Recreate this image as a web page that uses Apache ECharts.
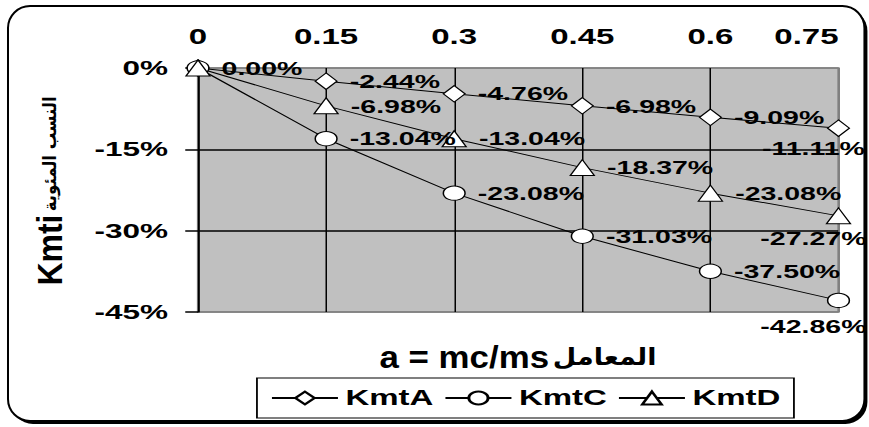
<!DOCTYPE html>
<html>
<head>
<meta charset="utf-8">
<script src="https://cdn.jsdelivr.net/npm/echarts@6/dist/echarts.min.js"></script>
<style>
  html, body { margin: 0; padding: 0; background: #fff; overflow: hidden; }
  #wrap { width: 869px; height: 427px; overflow: hidden; }
  /* the drawing is laid out narrow and widened 1.5x, giving the wide lettering and oval markers */
  #chart { width: 579.333px; height: 427px; transform: scaleX(1.5); transform-origin: 0 0; }
</style>
</head>
<body>
<div id="wrap"><div id="chart"></div></div>
<script>
// ratio a = mc/ms
const xValues = [0, 0.15, 0.3, 0.45, 0.6, 0.75];
// percentage change of Kmti for each mix
const kmtA = [0, -2.44, -4.76, -6.98, -9.09, -11.11];
const kmtC = [0, -13.04, -23.08, -31.03, -37.50, -42.86];
const kmtD = [0, -6.98, -13.04, -18.37, -23.08, -27.27];
const seriesNames = ['KmtA', 'KmtC', 'KmtD'];
const yMin = -45, yMax = 0, yStep = 15;
const xMin = 0, xMax = 0.75, xStep = 0.15;
const xTitleLatin = 'a = mc/ms';
const xTitleArabic = 'المعامل';
const yTitleLatin = 'Kmti';
const yTitleArabic = 'النسب المئوية';

const SX = 1.5;                 // horizontal widening of the page
const FONT = 'Arial, "Liberation Sans", sans-serif';
const AR_FONT = '"DejaVu Sans", sans-serif';

const chart = echarts.init(document.getElementById('chart'), null, { renderer: 'svg' });

function makeSeries(name, values, symbol, size, lastDist, hideFirst) {
  return {
    type: 'line',
    name: name,
    symbol: symbol,
    symbolSize: size,
    showAllSymbol: true,
    lineStyle: { color: '#000', width: 1 },
    itemStyle: { color: '#fff', borderColor: '#000', borderWidth: 1 },
    label: {
      show: true,
      position: 'right',
      distance: 8,
      color: '#000',
      fontFamily: FONT,
      fontWeight: 'bold',
      fontSize: 19,
      formatter: p => p.value[1].toFixed(2) + '%'
    },
    emphasis: { disabled: true },
    data: values.map((v, i) => {
      const item = { value: [xValues[i], v] };
      if (i === 0 && hideFirst) item.label = { show: false };
      if (i === values.length - 1) {
        item.label = { position: 'bottom', distance: lastDist, offset: [-16.7, 0] };
      }
      return item;
    })
  };
}

const option = {
  animation: false,
  backgroundColor: 'transparent',
  grid: {
    left: 132, right: 20, top: 68, bottom: 115,
    show: true,
    backgroundColor: '#c0c0c0',
    borderColor: '#808080',
    borderWidth: 1.5
  },
  xAxis: {
    type: 'value',
    position: 'top',
    min: xMin, max: xMax, interval: xStep,
    axisLine: { show: false },
    axisTick: { show: false },
    axisLabel: {
      margin: 20,
      color: '#000',
      fontFamily: FONT,
      fontWeight: 'bold',
      fontSize: 22,
      alignMaxLabel: 'right'
    },
    splitLine: {
      show: true,
      lineStyle: { color: ['#000', '#000', '#000', '#000', '#000', '#808080'], width: 1 }
    }
  },
  yAxis: {
    type: 'value',
    min: yMin, max: yMax, interval: yStep,
    axisLine: { show: true, lineStyle: { color: '#000', width: 1.2 } },
    axisTick: { show: true, inside: false, length: 8.5, lineStyle: { color: '#000', width: 1.5 } },
    axisLabel: {
      margin: 20,
      color: '#000',
      fontFamily: FONT,
      fontWeight: 'bold',
      fontSize: 21,
      formatter: v => v + '%'
    },
    splitLine: {
      show: true,
      lineStyle: { color: ['#808080', '#000', '#000', '#808080'], width: 1.5 }
    }
  },
  legend: {
    data: seriesNames,
    left: 171.3,
    top: 378,
    orient: 'horizontal',
    itemWidth: 44,
    itemHeight: 16,
    itemGap: 7,
    padding: [9, 9],
    backgroundColor: '#fff',
    borderColor: '#000',
    borderWidth: 1.2,
    borderRadius: 0,
    selectedMode: false,
    textStyle: { color: '#000', fontFamily: FONT, fontWeight: 'bold', fontSize: 22 }
  },
  graphic: [
    // outer frame: offset dark edge, then the white panel
    {
      type: 'rect', z: -20, silent: true,
      x: 11 / SX, y: 9, scaleX: 1 / SX,
      shape: { x: 0, y: 0, width: 856, height: 415, r: 22 },
      style: { fill: '#000' }
    },
    {
      type: 'rect', z: -19, silent: true,
      x: 8 / SX, y: 6, scaleX: 1 / SX,
      shape: { x: 0, y: 0, width: 856, height: 415, r: 22 },
      style: { fill: '#fff', stroke: '#000', lineWidth: 2 }
    },
    // x-axis title under the plot
    {
      type: 'text', z: 10, silent: true,
      x: 518 / SX, y: 357, scaleX: 0.75,
      style: {
        text: '{en|' + xTitleLatin + '} {ar|' + xTitleArabic + '}',
        align: 'center', verticalAlign: 'middle',
        rich: {
          en: { fontFamily: FONT, fontWeight: 'bold', fontSize: 31, fill: '#000' },
          ar: { fontFamily: AR_FONT, fontWeight: 'bold', fontSize: 24, fill: '#000' }
        }
      }
    },
    // y-axis title, reading bottom to top
    {
      type: 'text', z: 10, silent: true,
      x: 50 / SX, y: 191, rotation: Math.PI / 2, scaleX: 1, scaleY: 0.727,
      style: {
        text: '{en|' + yTitleLatin + '} {ar|' + yTitleArabic + '}',
        align: 'center', verticalAlign: 'middle',
        rich: {
          en: { fontFamily: FONT, fontWeight: 'bold', fontSize: 32, fill: '#000' },
          ar: { fontFamily: AR_FONT, fontWeight: 'bold', fontSize: 16.5, fill: '#000' }
        }
      }
    }
  ],
  series: [
    makeSeries('KmtA', kmtA, 'diamond', [14.5, 16.5], 2, false),
    makeSeries('KmtC', kmtC, 'circle', [14.5, 14.3], 9, true),
    makeSeries('KmtD', kmtD, 'triangle', [16, 16], 4, true)
  ]
};

chart.setOption(option);
</script>
</body>
</html>
